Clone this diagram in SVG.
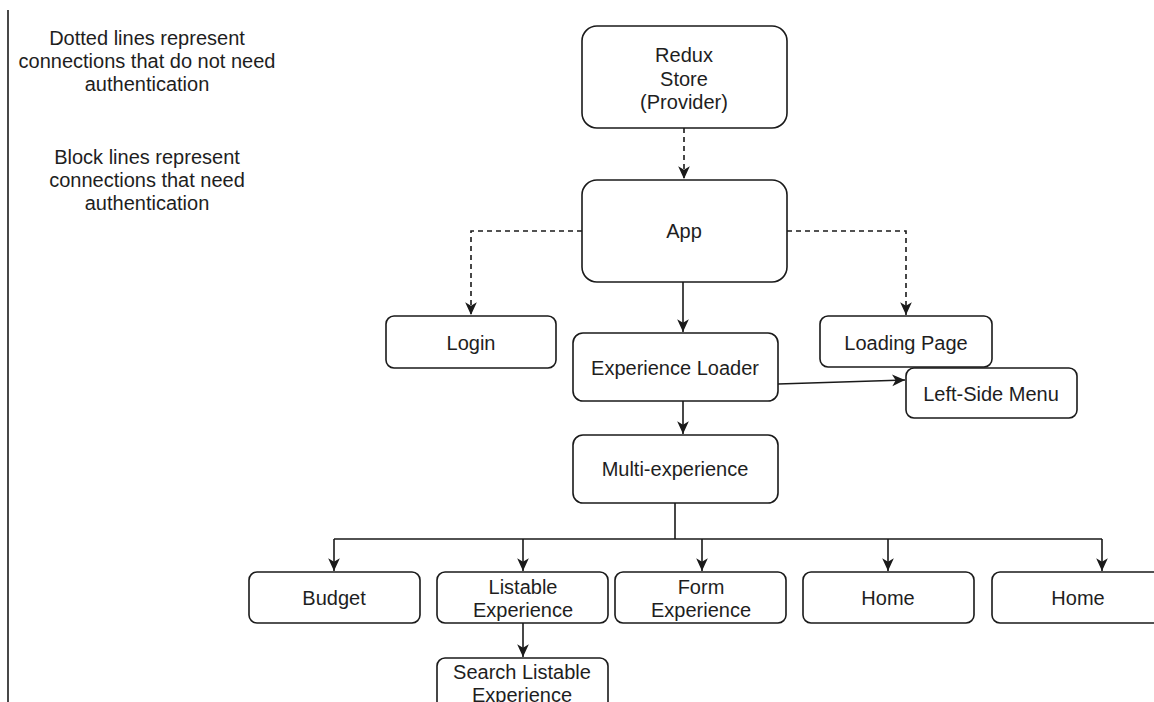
<svg xmlns="http://www.w3.org/2000/svg" width="1154" height="702" viewBox="0 0 1154 702">
<style>
.box{fill:#fff;stroke:#1a1a1a;stroke-width:1.6}
.t{font-family:"Liberation Sans",Arial,sans-serif;font-size:20px;fill:#1e1e1e;text-anchor:middle}
.c{fill:none;stroke:#1a1a1a;stroke-width:1.6}
.d{stroke-dasharray:5 4}
</style>
<defs>
<marker id="arr" markerUnits="userSpaceOnUse" markerWidth="14" markerHeight="14" viewBox="0 0 12 12" refX="11" refY="6" orient="auto">
<path d="M0,1 L11,6 L0,11 L3,6 z" fill="#1a1a1a"/>
</marker>
</defs>
<rect width="1154" height="702" fill="#fff"/>
<line x1="8" y1="10" x2="8" y2="702" stroke="#1a1a1a" stroke-width="1.6"/>
<g id="legend">
<text class="t" x="147" y="45">Dotted lines represent</text>
<text class="t" x="147" y="68">connections that do not need</text>
<text class="t" x="147" y="91">authentication</text>
<text class="t" x="147" y="164">Block lines represent</text>
<text class="t" x="147" y="187">connections that need</text>
<text class="t" x="147" y="210">authentication</text>
</g>
<g id="connectors">
<path class="c d" d="M684,128 V179" marker-end="url(#arr)"/>
<path class="c d" d="M582,231 H471 V315" marker-end="url(#arr)"/>
<path class="c d" d="M787,231 H906 V315" marker-end="url(#arr)"/>
<path class="c" d="M683,282 V332" marker-end="url(#arr)"/>
<path class="c" d="M683,401 V434" marker-end="url(#arr)"/>
<path class="c" d="M778,384 L905,380" marker-end="url(#arr)"/>
<path class="c" d="M675,503 V539 M334,539 H1102"/>
<path class="c" d="M334,539 V571" marker-end="url(#arr)"/>
<path class="c" d="M523,539 V571" marker-end="url(#arr)"/>
<path class="c" d="M702,539 V571" marker-end="url(#arr)"/>
<path class="c" d="M888,539 V571" marker-end="url(#arr)"/>
<path class="c" d="M1102,539 V571" marker-end="url(#arr)"/>
<path class="c" d="M523,623 V657" marker-end="url(#arr)"/>
</g>
<g id="redux"><rect class="box" x="582" y="26" width="205" height="102" rx="15"/>
<text class="t" x="684" y="62">Redux</text><text class="t" x="684" y="85.5">Store</text><text class="t" x="684" y="109">(Provider)</text></g>
<g id="app"><rect class="box" x="582" y="180" width="205" height="102" rx="15"/>
<text class="t" x="684" y="238">App</text></g>
<g id="login"><rect class="box" x="386" y="316" width="170" height="52" rx="8"/>
<text class="t" x="471" y="350">Login</text></g>
<g id="exploader"><rect class="box" x="573" y="333" width="205" height="68" rx="10"/>
<text class="t" x="675" y="375">Experience Loader</text></g>
<g id="loading"><rect class="box" x="820" y="316" width="172" height="51" rx="8"/>
<text class="t" x="906" y="350">Loading Page</text></g>
<g id="leftmenu"><rect class="box" x="906" y="368" width="171" height="50" rx="8"/>
<text class="t" x="991" y="401">Left-Side Menu</text></g>
<g id="multi"><rect class="box" x="573" y="435" width="205" height="68" rx="10"/>
<text class="t" x="675" y="476">Multi-experience</text></g>
<g id="budget"><rect class="box" x="249" y="572" width="171" height="51" rx="8"/>
<text class="t" x="334" y="605">Budget</text></g>
<g id="listable"><rect class="box" x="437" y="572" width="171" height="51" rx="8"/>
<text class="t" x="523" y="594">Listable</text><text class="t" x="523" y="617">Experience</text></g>
<g id="form"><rect class="box" x="615" y="572" width="171" height="51" rx="8"/>
<text class="t" x="701" y="594">Form</text><text class="t" x="701" y="617">Experience</text></g>
<g id="home1"><rect class="box" x="803" y="572" width="171" height="51" rx="8"/>
<text class="t" x="888" y="605">Home</text></g>
<g id="home2"><rect class="box" x="992" y="572" width="172" height="51" rx="8"/>
<text class="t" x="1078" y="605">Home</text></g>
<g id="search"><rect class="box" x="437" y="658" width="171" height="60" rx="8"/>
<text class="t" x="522" y="679">Search Listable</text><text class="t" x="522" y="702">Experience</text></g>
</svg>
